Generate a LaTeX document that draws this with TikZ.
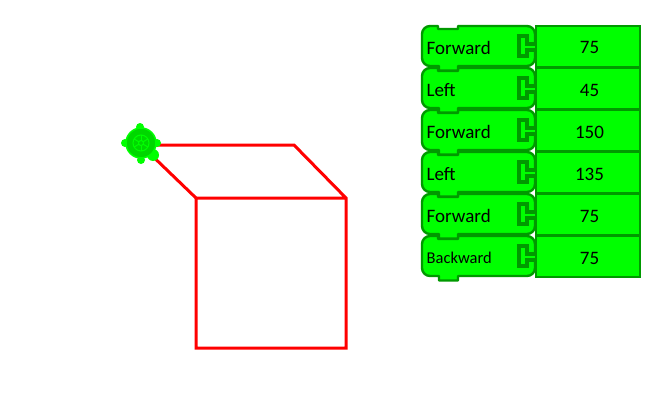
\documentclass[tikz,border=0pt]{standalone}
\usepackage{fontspec}
\setmainfont{Carlito}
\usetikzlibrary{positioning}
\definecolor{blockgreen}{RGB}{0,255,0}
\definecolor{edgegreen}{RGB}{0,153,0}
\definecolor{shellgreen}{RGB}{0,215,0}
\tikzset{
  blockedge/.style={draw=edgegreen,line width=2.4pt,fill=blockgreen,line join=round},
  valuebox/.style={draw=edgegreen,line width=2.2pt,fill=blockgreen,minimum width=104pt,minimum height=41pt,inner sep=0pt,text height=15pt,text depth=0pt,font=\fontsize{19}{19}\selectfont},
  cmdtext/.style={anchor=west,inner sep=0pt},
  trail/.style={draw=red,line width=3pt,line join=miter},
  turtlepart/.style={fill=blockgreen,draw=none},
}
\begin{document}
\begin{tikzpicture}[x=1pt,y=-1pt]
\useasboundingbox (0,0) rectangle (650,404);
% trail
\coordinate (c1) at (294,145);
\coordinate (c2) at (346,198);
\coordinate (c3) at (346,348);
\coordinate (c4) at (196,348);
\coordinate (c5) at (196,198);
\coordinate (start) at (141,145);
\draw[trail] (start) -- (c1) -- (c2) -- (c3) -- (c4) -- (c5) -- (c2);
\draw[trail] (c5) -- (start);
% turtle
\foreach \a/\b in {140/127,125/143,157/143,141/160}
  \fill[turtlepart] (\a,\b) circle (4pt);
\fill[turtlepart] (153,155) circle (6pt);
\node[circle,fill=shellgreen,draw=blockgreen,line width=1.5pt,minimum size=30pt,inner sep=0pt] (turtle) at (141,143) {};
\draw[blockgreen,line width=1pt] (turtle.center) circle (8pt) circle (2.5pt);
\foreach \a in {30,90,...,330}
  \draw[blockgreen,line width=1pt] (turtle.center) ++(\a:2.5pt) -- ++(\a:5.5pt);
% blocks, last one first so the tabs lie on top
\foreach \i/\cmd/\val/\fs in {5/Backward/75/16.5,4/Forward/75/19,3/Left/135/19,2/Forward/150/19,1/Left/45/19,0/Forward/75/19}{
  \begin{scope}[yshift=-42*\i pt]
    \draw[blockedge] (430,26) -- (438,26) -- (438,29) -- (458,29) -- (458,26) -- (527,26)
      arc (90:0:8pt) -- (535,58) arc (0:-90:8pt) -- (458,66) -- (458,70.5) -- (439,70.5) -- (439,66)
      -- (430,66) arc (270:180:8pt) -- (422,34) arc (180:90:8pt) -- cycle;
    \draw[edgegreen,line width=3.4pt,fill=blockgreen] (535,44) -- (527,44) -- (527,36) -- (519,36) -- (519,56) -- (527,56) -- (527,50) -- (535,50);
    \node[cmdtext,font=\fontsize{\fs}{\fs}\selectfont] (cmd\i) at (426.5,48) {\cmd};
    \node[valuebox] (val\i) at (588,46.5) {\hspace*{3pt}\val};
  \end{scope}
}
\end{tikzpicture}
\end{document}
